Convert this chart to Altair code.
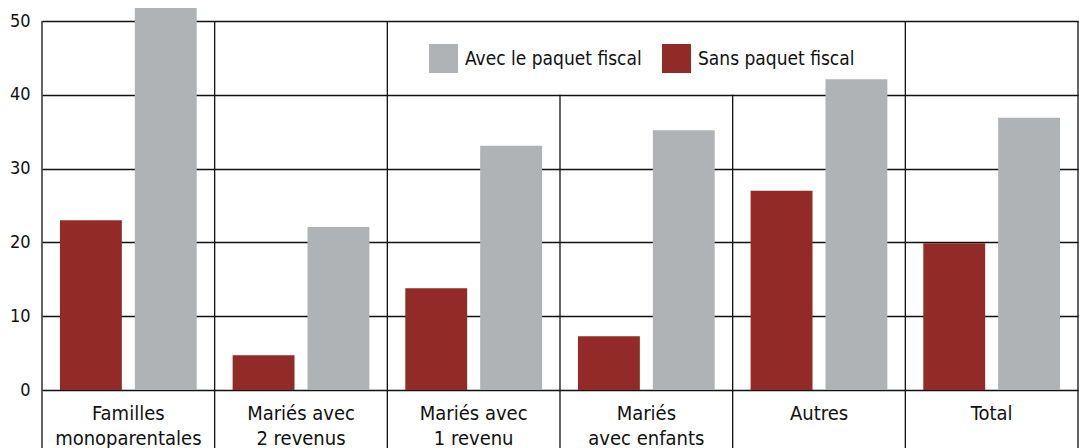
import altair as alt
import pandas as pd

categories = ["Familles|monoparentales", "Mariés avec|2 revenus", "Mariés avec|1 revenu",
              "Mariés|avec enfants", "Autres", "Total"]
series = ["Avec le paquet fiscal", "Sans paquet fiscal"]
sans_values = [23.0, 4.7, 13.8, 7.3, 27.0, 19.9]
avec_values = [52.3, 22.1, 33.1, 35.2, 42.1, 36.9]
y_ticks = [0, 10, 20, 30, 40, 50]

# separator lines (top value per group boundary; two are hidden behind the legend)
sep_top = [50, 50, 50, 40, 40, 50]
sep_bottom = -8

GRAY = "#b0b3b6"
RED = "#922a27"
FONT = "DejaVu Sans Condensed, Liberation Sans Narrow, sans-serif"

rows = []
for c, s, a in zip(categories, sans_values, avec_values):
    rows.append({"cat": c, "serie": series[1], "val": s})
    rows.append({"cat": c, "serie": series[0], "val": a})
df = pd.DataFrame(rows)

sep_df = pd.DataFrame({"cat": categories, "top": sep_top, "bottom": [sep_bottom] * len(categories)})
edge_df = pd.DataFrame({"cat": [categories[-1]], "top": [50], "bottom": [sep_bottom]})

yscale = alt.Scale(domain=[0, 50], nice=False, zero=True)
xscale = alt.Scale(paddingInner=0, paddingOuter=0)

bars = alt.Chart(df).mark_bar().encode(
    x=alt.X("cat:N", sort=categories, scale=xscale, title=None,
            axis=alt.Axis(labelExpr="split(datum.label, '|')", domain=False, ticks=False,
                          labelAngle=0, labelFontSize=20, labelFont=FONT, labelColor="#111",
                          labelPadding=13, labelLineHeight=25, labelBaseline="top", grid=False,
                          labelLimit=0)),
    xOffset=alt.XOffset("serie:N", sort=[series[1], series[0]],
                        scale=alt.Scale(paddingInner=0.1733, paddingOuter=0.24)),
    y=alt.Y("val:Q", scale=yscale, title=None,
            axis=alt.Axis(values=y_ticks, domain=False, ticks=False, grid=True,
                          gridColor="#111", gridWidth=1.3, gridOpacity=1,
                          labelFontSize=18, labelFont=FONT, labelColor="#111", labelPadding=12)),
    color=alt.Color("serie:N", scale=alt.Scale(domain=series, range=[GRAY, RED]),
                    legend=alt.Legend(orient="none", legendX=387, legendY=23, direction="horizontal",
                                      title=None, symbolType="square", symbolSize=841,
                                      symbolStrokeWidth=0, labelFontSize=19, labelFont=FONT,
                                      labelColor="#111", labelOffset=7, columnPadding=20,
                                      symbolOpacity=1, labelLimit=0)),
)

seps = alt.Chart(sep_df).mark_rule(color="#111", strokeWidth=1.3).encode(
    x=alt.X("cat:N", sort=categories, bandPosition=0),
    y=alt.Y("top:Q", scale=yscale),
    y2="bottom:Q",
)
edge = alt.Chart(edge_df).mark_rule(color="#111", strokeWidth=1.3).encode(
    x=alt.X("cat:N", sort=categories, bandPosition=1),
    y=alt.Y("top:Q", scale=yscale),
    y2="bottom:Q",
)

chart = alt.layer(bars, seps, edge).properties(
    width=1036, height=369,
    autosize=alt.AutoSizeParams(type="none"),
    padding={"left": 34, "top": 13, "right": 1, "bottom": 58},
).configure_view(stroke=None)

chart.save("out.html", embed_options={"renderer": "svg", "actions": False})
